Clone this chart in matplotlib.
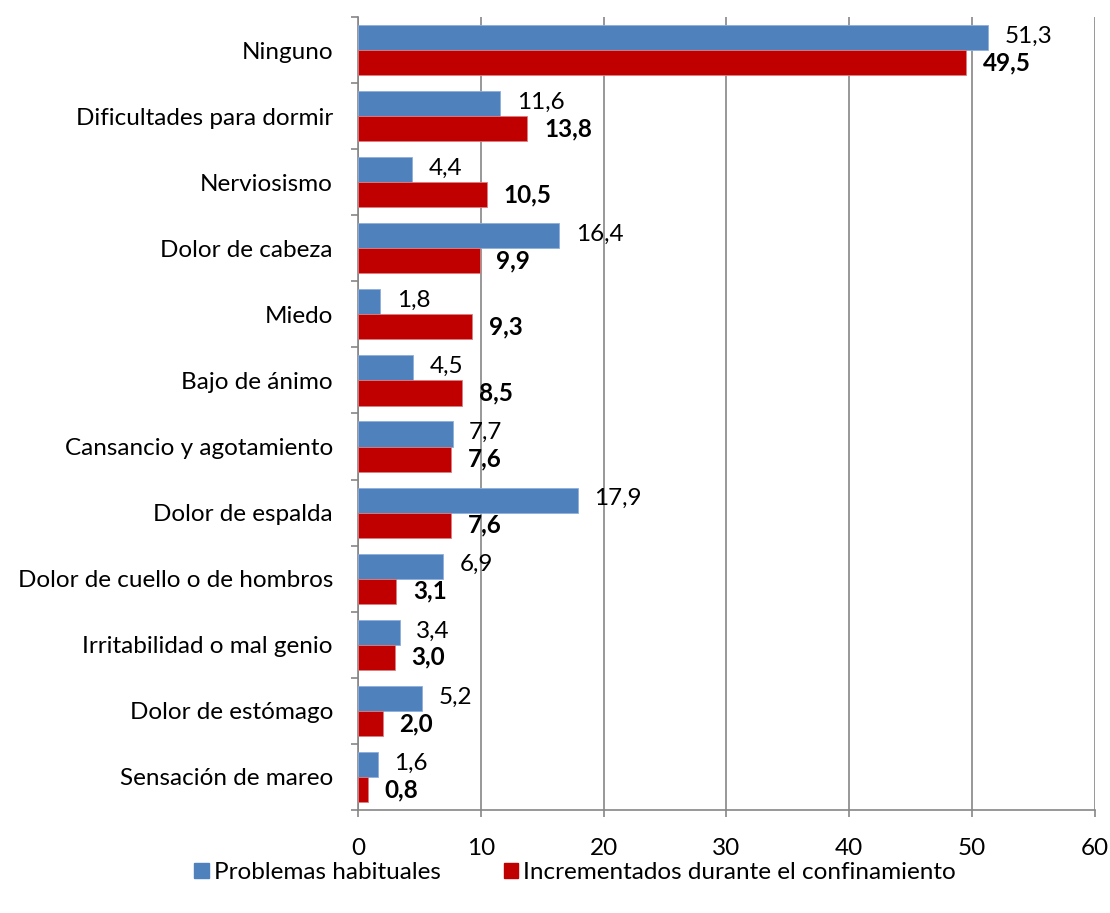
import matplotlib
matplotlib.use("Agg")
import matplotlib.pyplot as plt
from matplotlib.patches import Patch
import numpy as np

categories = [
    "Ninguno", "Dificultades para dormir", "Nerviosismo", "Dolor de cabeza",
    "Miedo", "Bajo de ánimo", "Cansancio y agotamiento", "Dolor de espalda",
    "Dolor de cuello o de hombros", "Irritabilidad o mal genio",
    "Dolor de estómago", "Sensación de mareo",
]
habituales = [51.3, 11.6, 4.4, 16.4, 1.8, 4.5, 7.7, 17.9, 6.9, 3.4, 5.2, 1.6]
confinamiento = [49.5, 13.8, 10.5, 9.9, 9.3, 8.5, 7.6, 7.6, 3.1, 3.0, 2.0, 0.8]
x_ticks = [0, 10, 20, 30, 40, 50, 60]

plt.rcParams['font.family'] = ['Lato', 'DejaVu Sans']

blue = '#4F81BD'
red = '#C00000'
grid_col = '#868686'
fs = 17.5

fig = plt.figure(figsize=(11.1, 9.13), dpi=100)
ax = fig.add_axes([0.3225, 0.1128, 0.664, 0.8686])

y = np.arange(len(categories))
h = 0.38
ax.barh(y - h / 2, habituales, height=h, color=blue, edgecolor='#8eaedb', linewidth=0.6, zorder=3)
ax.barh(y + h / 2, confinamiento, height=h, color=red, edgecolor='#d98080', linewidth=0.6, zorder=3)

for i in range(len(categories)):
    ax.annotate(f"{habituales[i]:.1f}".replace('.', ','), (habituales[i], y[i] - h / 2),
                xytext=(12, 1), textcoords='offset points', ha='left', va='center',
                fontsize=fs, color='black')
    ax.annotate(f"{confinamiento[i]:.1f}".replace('.', ','), (confinamiento[i], y[i] + h / 2),
                xytext=(12, 0), textcoords='offset points', ha='left', va='center',
                fontsize=fs, fontweight='bold', color='black')

ax.set_xlim(0, 60)
ax.set_ylim(len(categories) - 0.5, -0.5)
ax.set_xticks(x_ticks)
ax.set_xticklabels([str(v) for v in x_ticks], fontsize=fs)
ax.set_yticks(y)
ax.set_yticklabels(categories, fontsize=fs)
ax.set_yticks(np.arange(len(categories) + 1) - 0.5, minor=True)

ax.tick_params(axis='y', which='major', length=0, pad=18)
ax.tick_params(axis='y', which='minor', length=5, color=grid_col, width=1.2)
ax.tick_params(axis='x', length=5, color=grid_col, width=1.2, pad=15)

ax.grid(axis='x', color=grid_col, linewidth=1.2, zorder=0)
ax.set_axisbelow(True)
for s in ['top', 'right']:
    ax.spines[s].set_visible(False)
for s in ['left', 'bottom']:
    ax.spines[s].set_color(grid_col)
    ax.spines[s].set_linewidth(1.2)

handles = [Patch(color=blue, label='Problemas habituales'),
           Patch(color=red, label='Incrementados durante el confinamiento')]
fig.legend(handles=handles, loc='center', bbox_to_anchor=(0.518, 0.044), ncol=2,
           frameon=False, fontsize=fs, handlelength=0.6, handleheight=0.6,
           handletextpad=0.2, columnspacing=2.6)

fig.savefig('out.png', dpi=100)
